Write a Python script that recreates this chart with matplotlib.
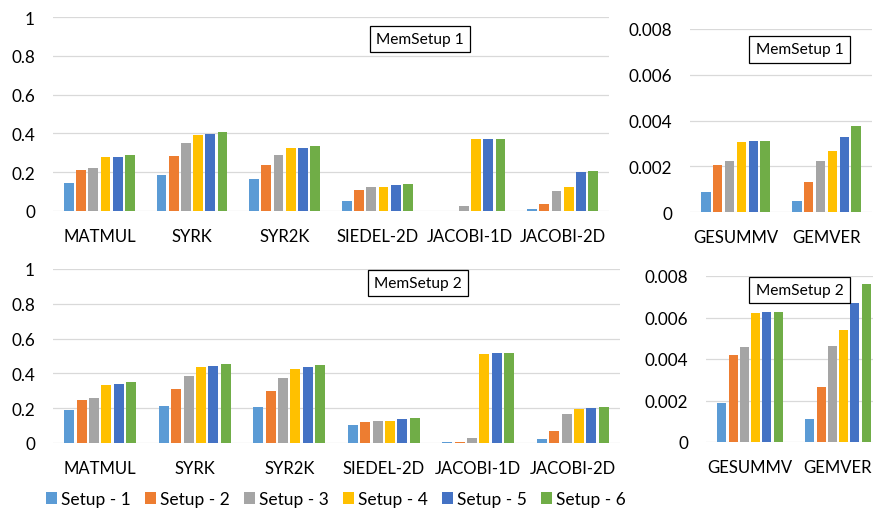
import numpy as np
import matplotlib
matplotlib.use('Agg')
import matplotlib.pyplot as plt
from matplotlib.patches import Patch

plt.rcParams['font.family'] = ['Lato', 'DejaVu Sans']

setups = ['Setup - 1', 'Setup - 2', 'Setup - 3', 'Setup - 4', 'Setup - 5', 'Setup - 6']
colors = ['#5B9BD5', '#ED7D31', '#A5A5A5', '#FFC000', '#4472C4', '#70AD47']

kernels_big = ['MATMUL', 'SYRK', 'SYR2K', 'SIEDEL-2D', 'JACOBI-1D', 'JACOBI-2D']
kernels_small = ['GESUMMV', 'GEMVER']

# MemSetup 1, rows = setups, cols = kernels
mem1_big = [
    [0.145, 0.188, 0.165, 0.053, 0.000, 0.010],
    [0.213, 0.286, 0.239, 0.110, 0.000, 0.034],
    [0.222, 0.353, 0.291, 0.122, 0.026, 0.103],
    [0.279, 0.394, 0.324, 0.124, 0.372, 0.122],
    [0.279, 0.398, 0.325, 0.134, 0.372, 0.200],
    [0.287, 0.408, 0.336, 0.139, 0.372, 0.206],
]
mem1_small = [
    [0.00089, 0.00048],
    [0.00206, 0.00129],
    [0.00225, 0.00225],
    [0.00307, 0.00268],
    [0.00310, 0.00330],
    [0.00310, 0.00377],
]

# MemSetup 2
mem2_big = [
    [0.188, 0.213, 0.205, 0.103, 0.003, 0.025],
    [0.247, 0.312, 0.299, 0.119, 0.003, 0.071],
    [0.260, 0.387, 0.374, 0.125, 0.029, 0.167],
    [0.333, 0.437, 0.427, 0.126, 0.511, 0.195],
    [0.339, 0.440, 0.435, 0.138, 0.517, 0.201],
    [0.352, 0.454, 0.450, 0.144, 0.517, 0.207],
]
mem2_small = [
    [0.00189, 0.00110],
    [0.00420, 0.00264],
    [0.00457, 0.00462],
    [0.00622, 0.00542],
    [0.00627, 0.00668],
    [0.00628, 0.00761],
]

W, H = 873, 510
fig = plt.figure(figsize=(W / 100, H / 100), dpi=100)


def px_axes(left, top, right, bottom):
    return fig.add_axes([left / W, 1 - bottom / H, (right - left) / W, (bottom - top) / H])


def draw(ax, cats, data, ymax, yticks, ylabels, group, label, box):
    n = len(data)
    x = np.arange(len(cats))
    step = group / n
    for i, vals in enumerate(data):
        ax.bar(x - group / 2 + step * (i + 0.5), vals, width=step * 0.8,
               color=colors[i], zorder=3)
    ax.set_xlim(-0.5, len(cats) - 0.5)
    ax.set_ylim(0, ymax)
    ax.set_xticks(x)
    ax.set_xticklabels(cats, fontsize=12)
    ax.set_yticks(yticks)
    ax.set_yticklabels(ylabels, fontsize=12.3)
    ax.tick_params(length=0, axis='x', pad=12.5)
    ax.tick_params(length=0, axis='y', pad=13)
    ax.grid(axis='y', color='#D9D9D9', linewidth=0.9, zorder=0)
    for s in ax.spines.values():
        s.set_visible(False)
    ax.text(box[0], box[1], label, transform=ax.transAxes, fontsize=11.2,
            ha='center', va='center',
            bbox=dict(boxstyle='square,pad=0.4', facecolor='white',
                      edgecolor='black', linewidth=0.9), zorder=5)


big_ticks = [0, 0.2, 0.4, 0.6, 0.8, 1]
big_labels = ['0', '0.2', '0.4', '0.6', '0.8', '1']
small_ticks = [0, 0.002, 0.004, 0.006, 0.008]
small_labels = ['0', '0.002', '0.004', '0.006', '0.008']

ax1 = px_axes(53, 18, 609, 212)
draw(ax1, kernels_big, mem1_big, 1, big_ticks, big_labels, 0.79, 'MemSetup 1', (0.66, 0.887))

ax2 = px_axes(690, 30, 872, 213)
draw(ax2, kernels_small, mem1_small, 0.008, small_ticks, small_labels, 0.78, 'MemSetup 1', (0.602, 0.888))

ax3 = px_axes(53, 270, 620, 444)
draw(ax3, kernels_big, mem2_big, 1, big_ticks, big_labels, 0.79, 'MemSetup 2', (0.644, 0.92))

ax4 = px_axes(706, 277, 882, 443)
draw(ax4, kernels_small, mem2_small, 0.008, small_ticks, small_labels, 0.77, 'MemSetup 2', (0.531, 0.916))

handles = [Patch(facecolor=c) for c in colors]
fig.legend(handles, setups, loc='center', bbox_to_anchor=(336 / W, 1 - 500 / H),
           ncol=6, frameon=False, fontsize=12.5, handlelength=0.63, handleheight=0.63,
           handletextpad=0.25, columnspacing=0.8, borderpad=0)

fig.savefig('out.png', dpi=100)
